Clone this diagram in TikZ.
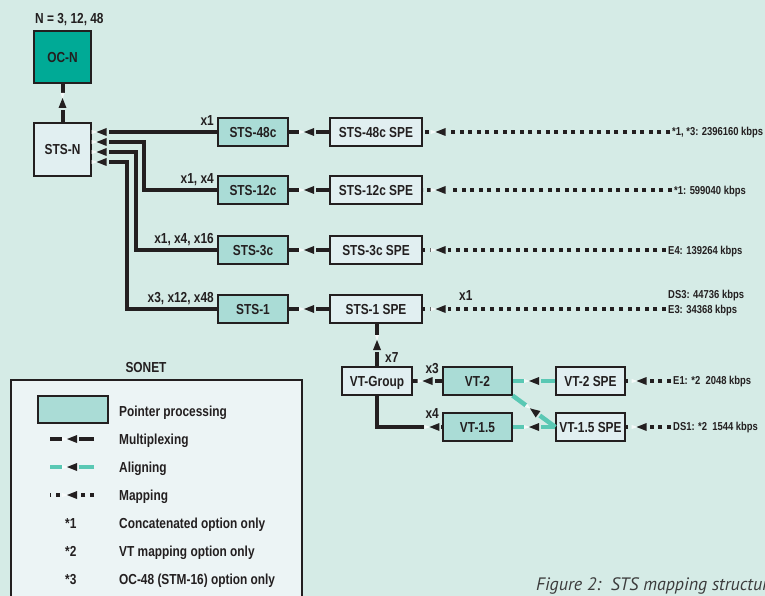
\documentclass[tikz,border=0pt]{standalone}
\usepackage{fontspec}
\setmainfont{Liberation Sans}[FakeStretch=0.82]
\newfontfamily\capfont{PT Sans}
\usetikzlibrary{decorations.markings}
\definecolor{bgmint}{RGB}{213,235,230}
\definecolor{spefill}{RGB}{225,239,241}
\definecolor{ptrfill}{RGB}{170,220,214}
\definecolor{ocfill}{RGB}{0,170,150}
\definecolor{aligncol}{RGB}{90,200,180}
\definecolor{legfill}{RGB}{236,244,245}
\definecolor{inkcol}{RGB}{35,31,32}
\definecolor{capgrey}{RGB}{60,60,60}
\newcommand\boxfont{\fontsize{14.5pt}{16pt}\selectfont\bfseries}
\newcommand\ratefont{\fontsize{11.5pt}{13pt}\selectfont\bfseries}
\newcommand\gapcol{bgmint}
\newcommand\arrowmark{%
	\fill[\gapcol] (-7pt,-3pt) rectangle (10pt,3pt);
	\fill[white!75!\gapcol] (4pt,0) -- (10pt,-2pt) -- (10pt,2pt) -- cycle;
	\fill[inkcol] (5pt,0) -- (-5pt,-4pt) -- (-5pt,4pt) -- cycle;}
\tikzset{
	spebox/.style={draw=inkcol,line width=1.2pt,fill=spefill,minimum height=28pt,
		inner sep=0pt,text height=10.4pt,text depth=0pt,font=\boxfont,text=inkcol},
	ptrbox/.style={spebox,fill=ptrfill},
	notetext/.style={font=\boxfont,text=inkcol,inner sep=0pt},
	rate/.style={font=\ratefont,text=inkcol,inner sep=0pt,inner xsep=2pt,anchor=base west},
	multiplex/.style={line width=4pt,draw=inkcol,postaction={decorate},
		decoration={markings,mark=at position #1 with {\arrowmark}}},
	multiplex/.default=0.5,
	aligning/.style={line width=4.5pt,draw=aligncol,postaction={decorate},
		decoration={markings,mark=at position #1 with {\arrowmark}}},
	aligning/.default=0.5,
	mapping/.style={line width=4pt,draw=inkcol,dash pattern=on 4pt off 4.6pt,postaction={decorate},
		decoration={markings,mark=at position #1 with {\arrowmark}}},
	mapping/.default=-18pt
}
\begin{document}
\begin{tikzpicture}[x=1pt,y=-1pt]
	\useasboundingbox (0,0) rectangle (765,596);
	\fill[bgmint] (0,0) rectangle (765,596);
	\node[notetext,anchor=base west] (nlist) at (35,24) {N = 3, 12, 48};
	\node[spebox,fill=ocfill,minimum width=57pt,minimum height=52pt] (ocn) at (62.5,57) {OC-N};
	\node[spebox,minimum width=57pt,minimum height=53pt] (stsn) at (62.5,149.5) {STS-N};
	\draw[multiplex] (stsn.north) -- (ocn.south);
	\foreach \nm/\lbl/\yy/\rx/\rtxt in {48/STS-48c/132/670/{*1, *3: 2396160 kbps},
		12/STS-12c/190/672/{*1: 599040 kbps},3/STS-3c/250/666/{E4: 139264 kbps},
		1/STS-1/309/666/{E3: 34368 kbps}}{
		\node[ptrbox,minimum width=70pt] (sts\nm) at (253,\yy) {\lbl};
		\node[spebox,minimum width=92pt] (spe\nm) at (376,\yy) {\lbl\ SPE};
		\node[rate] (rate\nm) at (\rx,\yy+4) {\rtxt};
		\draw[multiplex] (spe\nm.west) -- (sts\nm.east);
		\draw[mapping] (rate\nm.west |- spe\nm) -- (spe\nm.east);
	}
	\node[rate] (rateds3) at (666,298) {DS3: 44736 kbps};
	\draw[multiplex=-10pt] (sts48.west) -- (sts48.west -| stsn.east);
	\draw[multiplex=-10pt] (sts12.west) -- (144,190) -- (144,142) -- ([yshift=7.5pt]stsn.east);
	\draw[multiplex=-10pt] (sts3.west) -- (136,250) -- (136,152) -- ([yshift=-2.5pt]stsn.east);
	\draw[multiplex=-10pt] (sts1.west) -- (127,309) -- (127,162) -- ([yshift=-12.5pt]stsn.east);
	\node[notetext,anchor=base east] (m48) at (214,126) {x1};
	\node[notetext,anchor=base east] (m12) at (214,183) {x1, x4};
	\node[notetext,anchor=base east] (m3) at (214,243) {x1, x4, x16};
	\node[notetext,anchor=base east] (m1) at (214,302) {x3, x12, x48};
	\node[notetext,anchor=base west] (mspe) at (459,300) {x1};
	\node[spebox,minimum width=70pt] (vtg) at (377,381) {VT-Group};
	\node[ptrbox,minimum width=69pt] (vt2) at (477.5,381) {VT-2};
	\node[ptrbox,minimum width=69pt] (vt15) at (477.5,427) {VT-1.5};
	\node[spebox,minimum width=69pt] (vt2spe) at (590.5,381) {VT-2 SPE};
	\node[spebox,minimum width=69pt] (vt15spe) at (590.5,427) {VT-1.5 SPE};
	\node[rate] (ratee1) at (671,384) {E1: *2~~2048 kbps};
	\node[rate] (rateds1) at (671,430) {DS1: *2~~1544 kbps};
	\draw[multiplex] (vtg.north) -- (vtg.north |- spe1.south);
	\draw[multiplex] (vt2.west) -- (vtg.east);
	\draw[multiplex=8pt] (vt15.west) -- (vt15.west -| vtg.south) -- (vtg.south);
	\draw[aligning] (vt2spe.west) -- (vt2.east);
	\draw[aligning] (vt15spe.west) -- (vt15.east);
	\draw[aligning] (vt15spe.west) -- (vt2.south east);
	\draw[mapping=-16pt] (ratee1.west |- vt2spe) -- (vt2spe.east);
	\draw[mapping=-16pt] (rateds1.west |- vt15spe) -- (vt15spe.east);
	\node[notetext,anchor=base west] (m7) at (385,362) {x7};
	\node[notetext,anchor=base east] (mvt2) at (439,373) {x3};
	\node[notetext,anchor=base east] (mvt15) at (439,418) {x4};
	\node[notetext,anchor=base] (sonet) at (146,372) {SONET};
	\draw[inkcol,fill=legfill,line width=1.8pt] (11,380) rectangle (302,620);
	\node[ptrbox,minimum width=70pt,minimum height=27pt] (swatch) at (73,409.5) {};
	\foreach \i/\txt in {1/Pointer processing,2/Multiplexing,3/Aligning,4/Mapping,
		5/Concatenated option only,6/VT mapping option only,7/OC-48 (STM-16) option only}
		\node[notetext,anchor=base west] (leg\i) at (119,{388+28*\i}) {\txt};
	\foreach \i in {1,2,3}
		\node[notetext,anchor=base west] (star\i) at (65,{500+28*\i}) {*\i};
	\begin{scope}
		\renewcommand\gapcol{legfill}
		\coordinate (mxa) at (94,439); \coordinate (mxb) at (50,439);
		\coordinate (ala) at (94,467); \coordinate (alb) at (50,467);
		\coordinate (mpa) at (94,495); \coordinate (mpb) at (50,495);
		\draw[multiplex] (mxa) -- (mxb);
		\draw[aligning] (ala) -- (alb);
		\draw[mapping=0.5] (mpa) -- (mpb);
	\end{scope}
	\node[anchor=base west,inner sep=0pt,text=capgrey,
		font=\capfont\itshape\fontsize{18pt}{21pt}\selectfont] (caption) at (536,590)
		{Figure 2:\ \ STS mapping structure};
\end{tikzpicture}
\end{document}
